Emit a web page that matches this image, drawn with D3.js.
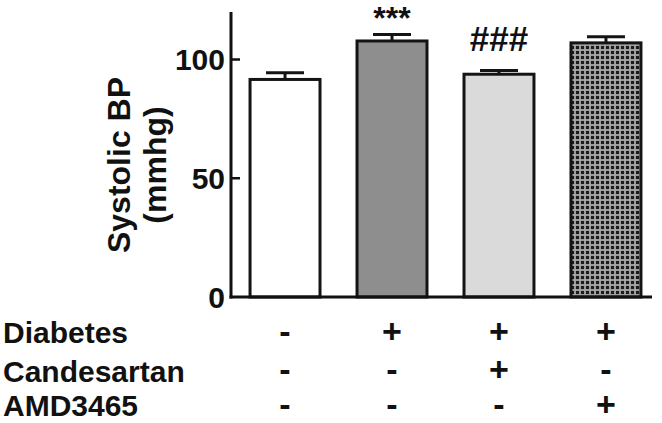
<!DOCTYPE html>
<html>
<head>
<meta charset="utf-8">
<script src="https://cdn.jsdelivr.net/npm/d3@7"></script>
<style>
  html, body { margin: 0; padding: 0; background: #fff; }
  svg { display: block; font-family: "Liberation Sans", Arial, sans-serif; }
</style>
</head>
<body>
<svg id="chart" width="662" height="423"></svg>
<script>
// ---- data ----
const groups = ["Control", "Diabetes", "Diabetes+Candesartan", "Diabetes+AMD3465"];
const means = [91.6, 107.8, 93.8, 107.0];
const sems = [2.8, 2.7, 1.6, 2.6];
const annotations = ["", "***", "###", ""];
const yTicks = [0, 50, 100];
const rowLabels = ["Diabetes", "Candesartan", "AMD3465"];
const rowSigns = [
  ["-", "+", "+", "+"],
  ["-", "-", "+", "-"],
  ["-", "-", "-", "+"]
];

// ---- layout ----
const svg = d3.select("#chart");
const axisX = 231, axisTop = 12, axisBottom = 297, axisRight = 652;

const y = d3.scaleLinear().domain([0, 120]).range([axisBottom, axisTop]);
const x = d3.scaleBand().domain(groups).range([axisX, 660])
  .paddingInner(0.346).paddingOuter(0.178);

// pattern for last bar
const defs = svg.append("defs");
const pat = defs.append("pattern").attr("id", "grid")
  .attr("patternUnits", "userSpaceOnUse").attr("width", 5).attr("height", 5);
pat.append("rect").attr("width", 5).attr("height", 5).attr("fill", "#a9a9a9");
pat.append("rect").attr("x", 0.9).attr("y", 0.9).attr("width", 3.2).attr("height", 3.2).attr("fill", "#1c1c1c");

const fills = ["#ffffff", "#8e8e8e", "#dadada", "url(#grid)"];

// bars
svg.append("g").selectAll("rect").data(groups).join("rect")
  .attr("x", d => x(d))
  .attr("y", (d, i) => y(means[i]))
  .attr("width", x.bandwidth())
  .attr("height", (d, i) => y(0) - y(means[i]))
  .attr("fill", (d, i) => fills[i])
  .attr("stroke", "#141414")
  .attr("stroke-width", 3);

// error bars (upper only)
const eb = svg.append("g").attr("stroke", "#141414").attr("stroke-width", 3);
groups.forEach((g, i) => {
  const cx = x(g) + x.bandwidth() / 2;
  eb.append("line").attr("x1", cx).attr("x2", cx)
    .attr("y1", y(means[i])).attr("y2", y(means[i] + sems[i]));
  eb.append("line").attr("x1", cx - 19).attr("x2", cx + 19)
    .attr("y1", y(means[i] + sems[i])).attr("y2", y(means[i] + sems[i]));
});

// annotations
const annOffset = { "***": 6, "###": 19 };
groups.forEach((g, i) => {
  if (!annotations[i]) return;
  svg.append("text")
    .attr("x", x(g) + x.bandwidth() / 2)
    .attr("y", y(means[i] + sems[i]) - annOffset[annotations[i]])
    .attr("text-anchor", "middle")
    .attr("font-size", annotations[i] === "***" ? 32 : 35)
    .attr("font-weight", "bold")
    .attr("fill", "#111")
    .text(annotations[i]);
});

// axes lines
svg.append("line").attr("x1", axisX).attr("x2", axisX)
  .attr("y1", axisTop).attr("y2", axisBottom + 1.5)
  .attr("stroke", "#111").attr("stroke-width", 3);
svg.append("line").attr("x1", axisX - 1.5).attr("x2", axisRight)
  .attr("y1", axisBottom).attr("y2", axisBottom)
  .attr("stroke", "#111").attr("stroke-width", 3);

// y ticks
const yAxis = svg.append("g");
yTicks.forEach(t => {
  if (t !== 0) {
    yAxis.append("line").attr("x1", axisX).attr("x2", axisX + 9)
      .attr("y1", y(t)).attr("y2", y(t))
      .attr("stroke", "#111").attr("stroke-width", 2.5);
  }
  yAxis.append("text")
    .attr("x", 225).attr("y", y(t)).attr("dy", "0.36em")
    .attr("text-anchor", "end")
    .attr("font-size", 30).attr("font-weight", "bold").attr("fill", "#111")
    .text(t);
});

// y label
const yl = svg.append("text")
  .attr("transform", "translate(130,165) rotate(-90)")
  .attr("text-anchor", "middle")
  .attr("font-size", 32).attr("font-weight", "bold").attr("fill", "#111");
yl.append("tspan").attr("x", 0).attr("y", 0).text("Systolic BP");
yl.append("tspan").attr("x", 0).attr("y", 36).text("(mmhg)");

// bottom table
const rowBase = [343, 382, 416];
const signBase = [343, 381, 415.5];
rowLabels.forEach((lab, r) => {
  svg.append("text").attr("x", 3).attr("y", rowBase[r])
    .attr("font-size", 30).attr("font-weight", "bold").attr("fill", "#111")
    .text(lab);
  rowSigns[r].forEach((s, i) => {
    svg.append("text")
      .attr("x", x(groups[i]) + x.bandwidth() / 2)
      .attr("y", signBase[r])
      .attr("text-anchor", "middle")
      .attr("font-size", 34).attr("font-weight", "bold").attr("fill", "#111")
      .text(s);
  });
});
</script>
</body>
</html>
